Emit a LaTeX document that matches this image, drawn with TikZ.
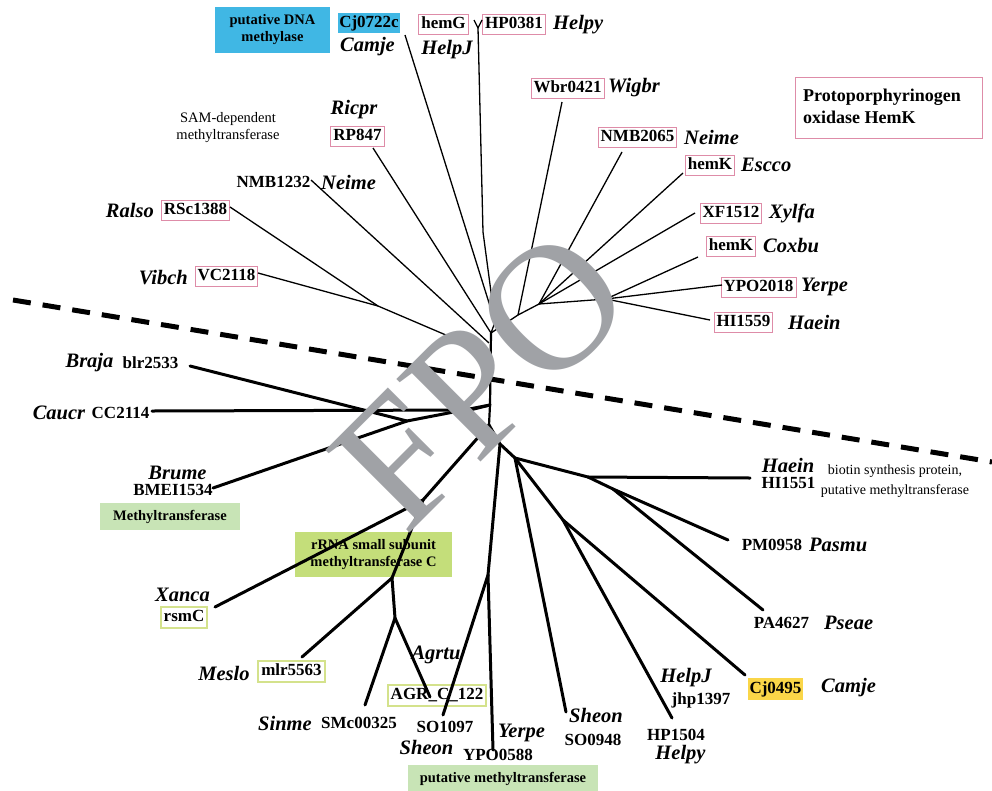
\documentclass[tikz,border=0pt]{standalone}
\usepackage{fontspec}
\setmainfont{Liberation Serif}
\definecolor{pinkc}{RGB}{222,140,168}
\definecolor{olivec}{RGB}{212,226,140}
\definecolor{bluec}{RGB}{64,183,228}
\definecolor{yellc}{RGB}{250,214,72}
\definecolor{greenA}{RGB}{200,228,182}
\definecolor{greenB}{RGB}{196,222,122}
\definecolor{fpogray}{RGB}{160,162,166}
\tikzset{
  gid/.style={font=\fontsize{17}{19}\selectfont\bfseries, inner sep=1.5pt},
  spc/.style={font=\fontsize{20.5}{22}\selectfont\bfseries\itshape, inner sep=1pt},
  pbox/.style={gid, draw=pinkc, line width=0.9pt, inner sep=2.5pt, text height=12pt, text depth=3pt},
  obox/.style={gid, draw=olivec, line width=2pt, inner sep=3pt, text height=12pt, text depth=3pt},
  fbox/.style={gid, inner sep=0pt, text height=12pt, text depth=3pt},
  note/.style={font=\fontsize{14.5}{17}\selectfont, align=center, inner sep=0pt},
  gnote/.style={font=\fontsize{14.5}{17}\selectfont\bfseries, align=center, inner sep=0pt},
  upl/.style={line width=1.3pt, line join=round},
  trk/.style={line width=2.2pt},
  lowl/.style={line width=3pt, line cap=round, line join=round},
  divline/.style={line width=5pt, dash pattern=on 18pt off 12pt},
}
\begin{document}
\begin{tikzpicture}[x=1pt,y=-1pt]
\useasboundingbox[fill=white] (0,0) rectangle (992,790);

% ---------- coordinates of the tree ----------
% upper tree
\coordinate (eCj) at (405,35);
\coordinate (eHPa) at (474,20);
\coordinate (eHPb) at (482,20);
\coordinate (eHP) at (478,28);
\coordinate (kHP) at (483,232);
\coordinate (H) at (495,322);
\coordinate (eWbr) at (562,102);
\coordinate (eNMBb) at (622,152);
\coordinate (eEsc) at (683,173);
\coordinate (eXf) at (695,213);
\coordinate (eCox) at (698,257);
\coordinate (eYpo) at (722,285);
\coordinate (eHIu) at (710,320);
\coordinate (A) at (606,299);
\coordinate (B) at (539,304);
\coordinate (W) at (518,315);
\coordinate (eRP) at (373,148);
\coordinate (eNMBa) at (311,180);
\coordinate (eRal) at (230,207);
\coordinate (eVib) at (258,273);
\coordinate (R1) at (378,306);
\coordinate (P0) at (491,333);
\coordinate (P1) at (489,343);
\coordinate (P2) at (488,353);
\coordinate (J) at (490,405);
\coordinate (T) at (489,425);
% lower tree
\coordinate (eBra) at (190,366);
\coordinate (eCau) at (152,411);
\coordinate (kCau) at (470,410);
\coordinate (eBru) at (213,488);
\coordinate (K) at (407,421);
\coordinate (N1) at (423,500);
\coordinate (eXan) at (215,607);
\coordinate (N2) at (392,578);
\coordinate (eMes) at (302,657);
\coordinate (N3) at (395,618);
\coordinate (eSin) at (365,705);
\coordinate (eAgr) at (430,697);
\coordinate (N6) at (500,444);
\coordinate (N5) at (515,458);
\coordinate (N4) at (488,575);
\coordinate (eSOa) at (443,715);
\coordinate (eYP) at (493,750);
\coordinate (eSOb) at (566,712);
\coordinate (N8) at (588,477);
\coordinate (eHIl) at (750,478);
\coordinate (N9) at (613,489);
\coordinate (ePM) at (728,540);
\coordinate (ePA) at (763,610);
\coordinate (N10) at (563,520);
\coordinate (eCjl) at (745,675);
\coordinate (eHPl) at (672,718);

% ---------- top labels ----------
\node[gnote, fill=bluec, minimum width=115pt, minimum height=46pt] (dnam) at (272.5,30) {putative DNA\\methylase};
\node[fbox, fill=bluec, minimum width=62pt, minimum height=20pt] (cj7) at (369,23) {Cj0722c};
\node[spc] (camje1) at (367.5,47) {Camje};
\node[pbox] (hemG) at (443.5,24) {hemG};
\node[spc] (helpj1) at (447,50) {HelpJ};
\node[pbox] (hp381) at (514,24) {HP0381};
\node[spc, anchor=west] (helpy1) at (552,25) {Helpy};
\node[note] (sam) at (228,128) {SAM-dependent\\methyltransferase};
\node[spc] (ricpr) at (354,110) {Ricpr};
\node[pbox] (rp847) at (357.5,136) {RP847};
\node[pbox] (wbr) at (567.5,88) {Wbr0421};
\node[spc, anchor=west] (wigbr) at (607,88) {Wigbr};
\node[pbox] (nmb2) at (637.5,137) {NMB2065};
\node[spc, anchor=west] (neime2) at (683,137) {Neime};
\node[pbox] (hemK1) at (710,165) {hemK};
\node[spc, anchor=west] (escco) at (740,165) {Escco};
\node[pbox] (xf) at (731,213) {XF1512};
\node[spc, anchor=west] (xylfa) at (768,213) {Xylfa};
\node[pbox] (hemK2) at (731,246) {hemK};
\node[spc, anchor=west] (coxbu) at (762,246) {Coxbu};
\node[pbox] (ypo2) at (758.5,287) {YPO2018};
\node[spc, anchor=west] (yerpe1) at (800,287) {Yerpe};
\node[pbox] (hi1559) at (743.5,322) {HI1559};
\node[spc, anchor=west] (haein1) at (787,322) {Haein};
\node[draw=pinkc, line width=0.9pt, minimum width=187pt, minimum height=61pt] (ppbox) at (888.5,107.5) {};
\node[font=\fontsize{18}{22}\selectfont\bfseries, align=left, anchor=west, inner sep=0pt] (pptext) at (803,106) {Protoporphyrinogen\\oxidase HemK};
\node[gid] (nmb1) at (273.5,182) {NMB1232};
\node[spc, anchor=west] (neime1) at (320,182) {Neime};
\node[spc, anchor=east] (ralso) at (155,210) {Ralso};
\node[pbox] (rsc) at (195.5,210) {RSc1388};
\node[spc, anchor=east] (vibch) at (189,278) {Vibch};
\node[pbox] (vc) at (226.5,276) {VC2118};

% ---------- lower labels ----------
\node[spc] (braja) at (89.5,363) {Braja};
\node[gid, anchor=west] (blr) at (121,363) {blr2533};
\node[spc] (caucr) at (59,413) {Caucr};
\node[gid, anchor=west] (cc) at (90,413) {CC2114};
\node[spc] (brume) at (177.5,473) {Brume};
\node[gid] (bmei) at (173,490) {BMEI1534};
\node[gnote, fill=greenA, minimum width=140pt, minimum height=27pt] (mtbox) at (170,516.5) {Methyltransferase};
\node[gnote, fill=greenB, minimum width=157pt, minimum height=45pt] (rrna) at (373.5,554.5) {rRNA small subunit\\methyltransferase C};
\node[spc] (xanca) at (182.5,595) {Xanca};
\node[obox] (rsmc) at (184,617) {rsmC};
\node[spc] (meslo) at (224,673) {Meslo};
\node[obox] (mlr) at (291.5,671) {mlr5563};
\node[spc] (sinme) at (285,723) {Sinme};
\node[gid] (smc) at (359,723) {SMc00325};
\node[spc] (agrtu) at (436,655) {Agrtu};
\node[obox] (agr) at (437,695) {AGR\_C\_122};
\node[gid] (so1097) at (445,727) {SO1097};
\node[spc] (sheon1) at (426.5,747) {Sheon};
\node[spc] (yerpe2) at (521.5,733) {Yerpe};
\node[gid] (ypo0588) at (498,755) {YPO0588};
\node[gnote, fill=greenA, minimum width=190pt, minimum height=27pt] (pmbox) at (503,778.5) {putative methyltransferase};
\node[spc] (sheon2) at (596,715) {Sheon};
\node[gid] (so0948) at (593,740) {SO0948};
\node[spc] (helpj2) at (686,678) {HelpJ};
\node[gid] (jhp) at (701,700) {jhp1397};
\node[gid] (hp1504) at (676,735) {HP1504};
\node[spc] (helpy2) at (680.5,755) {Helpy};
\node[fbox, fill=yellc, minimum width=55pt, minimum height=22pt] (cj4) at (775.5,689) {Cj0495};
\node[spc, anchor=west] (camje2) at (820,688) {Camje};
\node[gid] (pa) at (781.5,623) {PA4627};
\node[spc, anchor=west] (pseae) at (823,623) {Pseae};
\node[gid] (pm) at (772,545) {PM0958};
\node[spc, anchor=west] (pasmu) at (808,545) {Pasmu};
\node[spc] (haein2) at (788,465) {Haein};
\node[gid] (hi1551) at (788.5,483) {HI1551};
\node[note, font=\fontsize{14}{20}\selectfont] (biotin) at (895,481) {biotin synthesis protein,\\putative methyltransferase};

% ---------- divider ----------
\coordinate (d1) at (13,300);
\coordinate (d2) at (992,462);
\draw[divline] (d1) -- (d2);

% ---------- upper tree ----------
\draw[upl] (eHPa) -- (eHP) -- (eHPb);
\draw[upl] (eHP) -- (kHP) -- (H) -- (P0);
\draw[upl] (eCj) -- (H);
\draw[upl] (eWbr) -- (W) -- (P0);
\draw[upl] (B) -- (W);
\draw[upl] (eNMBb) -- (B);
\draw[upl] (eEsc) -- (B);
\draw[upl] (eXf) -- (B);
\draw[upl] (A) -- (B);
\draw[upl] (eCox) -- (A);
\draw[upl] (eYpo) -- (A);
\draw[upl] (eHIu) -- (A);
\draw[upl] (eRP) -- (P0);
\draw[upl] (eNMBa) -- (P1);
\draw[upl] (eRal) -- (R1);
\draw[upl] (eVib) -- (R1);
\draw[upl] (R1) -- (P2);
\draw[trk] (P0) -- (J) -- (T);

% ---------- lower tree ----------
\draw[lowl] (eBra) -- (K);
\draw[lowl] (eBru) -- (K);
\draw[lowl] (K) -- (J);
\draw[lowl] (eCau) -- (kCau) -- (J);
\draw[lowl] (T) -- (N1);
\draw[lowl] (N1) -- (eXan);
\draw[lowl] (N1) -- (N2);
\draw[lowl] (N2) -- (eMes);
\draw[lowl] (N2) -- (N3);
\draw[lowl] (N3) -- (eSin);
\draw[lowl] (N3) -- (eAgr);
\draw[lowl] (T) -- (N6) -- (N5);
\draw[lowl] (N6) -- (N4);
\draw[lowl] (N4) -- (eSOa);
\draw[lowl] (N4) -- (eYP);
\draw[lowl] (N5) -- (eSOb);
\draw[lowl] (N5) -- (N8);
\draw[lowl] (N8) -- (eHIl);
\draw[lowl] (N8) -- (N9) -- (ePM);
\draw[lowl] (N9) -- (ePA);
\draw[lowl] (N5) -- (N10);
\draw[lowl] (N10) -- (eCjl);
\draw[lowl] (N10) -- (eHPl);

% ---------- watermark ----------
\node[font=\fontsize{180}{180}\selectfont, text=fpogray, rotate=45, inner sep=0pt] (fpo) at (481,379) {FPO};
\end{tikzpicture}
\end{document}
